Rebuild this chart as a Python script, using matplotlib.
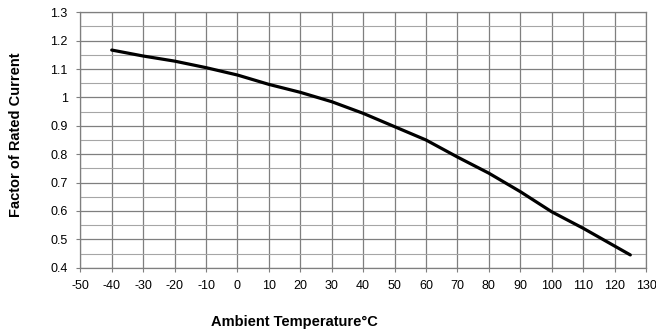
import matplotlib
matplotlib.use('Agg')
import matplotlib.pyplot as plt
from matplotlib.ticker import MultipleLocator

TEMPS = [-40, -30, -20, -10, 0, 10, 20, 30, 40, 50, 60, 70, 80, 90, 100, 110, 125]
FACTOR = [1.167, 1.146, 1.128, 1.105, 1.079, 1.046, 1.018, 0.985, 0.944,
          0.897, 0.85, 0.79, 0.733, 0.668, 0.597, 0.539, 0.445]

XTICKS = list(range(-50, 131, 10))
YTICKS = [0.4, 0.5, 0.6, 0.7, 0.8, 0.9, 1.0, 1.1, 1.2, 1.3]
YLABELS = ['0.4', '0.5', '0.6', '0.7', '0.8', '0.9', '1', '1.1', '1.2', '1.3']

plt.rcParams['font.family'] = ['Liberation Sans', 'DejaVu Sans']
plt.rcParams['axes.unicode_minus'] = False


def main():
    fig = plt.figure(figsize=(6.56, 3.3), dpi=100)
    ax = fig.add_axes([0.1224, 0.1888, 0.8624, 0.7739])

    ax.plot(TEMPS, FACTOR, color='black', lw=2.3, solid_capstyle='round')

    ax.set_xlim(-50, 130)
    ax.set_ylim(0.4, 1.3)
    ax.set_xticks(XTICKS)
    ax.set_xticklabels([str(t) for t in XTICKS])
    ax.set_yticks(YTICKS)
    ax.set_yticklabels(YLABELS)
    ax.yaxis.set_minor_locator(MultipleLocator(0.05))

    ax.grid(which='major', color='#7f7f7f', lw=0.9)
    ax.grid(which='minor', axis='y', color='#a6a6a6', lw=0.8)
    ax.set_axisbelow(True)
    for s in ax.spines.values():
        s.set_color('#7f7f7f')
        s.set_linewidth(0.9)

    ax.tick_params(which='major', length=3, color='#7f7f7f', labelsize=9)
    ax.tick_params(axis='x', pad=6)
    ax.tick_params(axis='y', pad=6)
    ax.tick_params(axis='y', which='minor', length=0)

    lbl = dict(fontweight='bold', fontsize=10.5)
    ax.set_xlabel('Ambient Temperature°C', ha='center', va='center', **lbl)
    ax.xaxis.set_label_coords(0.379, -0.213)
    ax.set_ylabel('Factor of Rated Current', ha='center', va='center', **lbl)
    ax.yaxis.set_label_coords(-0.113, 0.52)

    fig.savefig('out.png', dpi=100)


if __name__ == '__main__':
    main()
